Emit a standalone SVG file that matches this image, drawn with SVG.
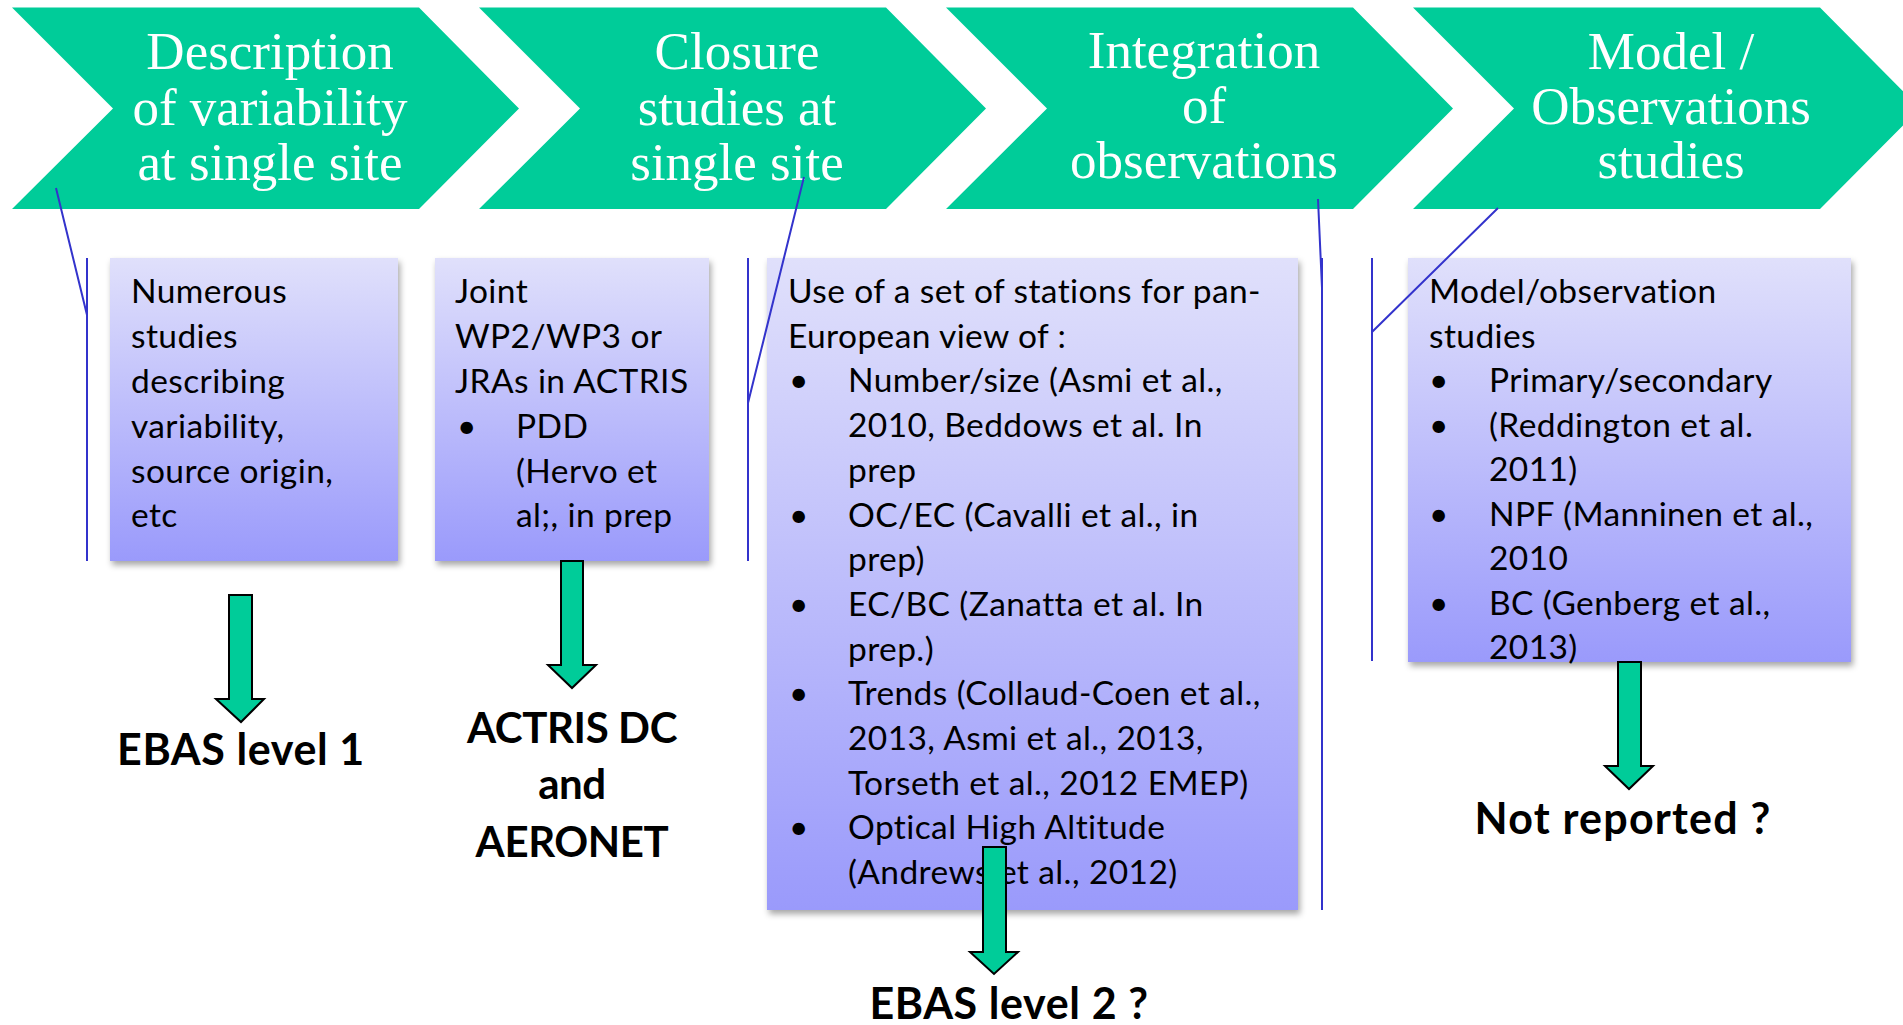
<svg xmlns="http://www.w3.org/2000/svg" width="1903" height="1025" viewBox="0 0 1903 1025">
<style>
.chev{fill:#00CC99}
.ct{font-family:"Liberation Serif","Times New Roman",serif;font-size:53px;fill:#fff;text-anchor:middle}
.box{fill:url(#bg);filter:url(#sh)}
.bt{font-family:Lato,"Liberation Sans",sans-serif;font-size:33.5px;letter-spacing:0.4px;fill:#000}
.lab{font-family:Lato,"Liberation Sans",sans-serif;font-weight:bold;font-size:43px;letter-spacing:0.6px;fill:#000;text-anchor:middle}
.lab2{font-family:Lato,"Liberation Sans",sans-serif;font-weight:bold;font-size:42px;letter-spacing:-0.4px;fill:#000;text-anchor:middle}
.ln{stroke:#3333CC;stroke-width:2;fill:none}
.arr{fill:#00CC99;stroke:#000;stroke-width:2;stroke-linejoin:miter}
</style>
<defs>
<linearGradient id="bg" x1="0" y1="0" x2="0" y2="1">
<stop offset="0" stop-color="#E0E0FB"/>
<stop offset="1" stop-color="#9A9AFB"/>
</linearGradient>
<filter id="sh" x="-5%" y="-5%" width="115%" height="115%">
<feDropShadow dx="2" dy="4" stdDeviation="3" flood-color="#000" flood-opacity="0.35"/>
</filter>
<path id="chevShape" d="M0,7.5 H407 L507,108.5 L407,209 H0 L101,108.5 Z"/>
</defs>
<rect width="1903" height="1025" fill="#fff"/>

<g id="step1">
<use href="#chevShape" x="12" class="chev"/>
<text class="ct"><tspan x="270" y="69">Description</tspan><tspan x="270" y="125">of variability</tspan><tspan x="270" y="180">at single site</tspan></text>
</g>
<g id="step2">
<use href="#chevShape" x="479" class="chev"/>
<text class="ct"><tspan x="737" y="69">Closure</tspan><tspan x="737" y="125">studies at</tspan><tspan x="737" y="180">single site</tspan></text>
</g>
<g id="step3">
<use href="#chevShape" x="946" class="chev"/>
<text class="ct"><tspan x="1204" y="68">Integration</tspan><tspan x="1204" y="123">of</tspan><tspan x="1204" y="178">observations</tspan></text>
</g>
<g id="step4">
<use href="#chevShape" x="1413" class="chev"/>
<text class="ct"><tspan x="1671" y="69">Model /</tspan><tspan x="1671" y="124">Observations</tspan><tspan x="1671" y="178">studies</tspan></text>
</g>

<g id="box1">
<rect class="box" x="110" y="258" width="288" height="303"/>
<text class="bt"><tspan x="131" y="303">Numerous</tspan><tspan x="131" y="348">studies</tspan><tspan x="131" y="393">describing</tspan><tspan x="131" y="438">variability,</tspan><tspan x="131" y="483">source origin,</tspan><tspan x="131" y="527">etc</tspan></text>
</g>
<g id="box2">
<rect class="box" x="435" y="258" width="274" height="303"/>
<text class="bt"><tspan x="455" y="303">Joint</tspan><tspan x="455" y="348">WP2/WP3 or</tspan><tspan x="455" y="393">JRAs in ACTRIS</tspan><tspan x="457" y="438">•</tspan><tspan x="516" y="438">PDD</tspan><tspan x="516" y="483">(Hervo et</tspan><tspan x="516" y="527">al;, in prep</tspan></text>
</g>
<g id="box3">
<rect class="box" x="767" y="258" width="531" height="652"/>
<text class="bt"><tspan x="788" y="303">Use of a set of stations for pan-</tspan><tspan x="788" y="347.7">European view of :</tspan><tspan x="789" y="392.4">•</tspan><tspan x="848" y="392.4">Number/size (Asmi et al.,</tspan><tspan x="848" y="437.1">2010, Beddows et al. In</tspan><tspan x="848" y="481.8">prep</tspan><tspan x="789" y="526.5">•</tspan><tspan x="848" y="526.5">OC/EC (Cavalli et al., in</tspan><tspan x="848" y="571.2">prep)</tspan><tspan x="789" y="615.9">•</tspan><tspan x="848" y="615.9">EC/BC (Zanatta et al. In</tspan><tspan x="848" y="660.6">prep.)</tspan><tspan x="789" y="705.3">•</tspan><tspan x="848" y="705.3">Trends (Collaud-Coen et al.,</tspan><tspan x="848" y="750">2013, Asmi et al., 2013,</tspan><tspan x="848" y="794.7">Torseth et al., 2012 EMEP)</tspan><tspan x="789" y="839.4">•</tspan><tspan x="848" y="839.4">Optical High Altitude</tspan><tspan x="848" y="884.1">(Andrews et al., 2012)</tspan></text>
</g>
<g id="box4">
<rect class="box" x="1408" y="258" width="443" height="404"/>
<text class="bt"><tspan x="1429" y="303">Model/observation</tspan><tspan x="1429" y="347.5">studies</tspan><tspan x="1429" y="392">•</tspan><tspan x="1489" y="392">Primary/secondary</tspan><tspan x="1429" y="436.5">•</tspan><tspan x="1489" y="436.5">(Reddington et al.</tspan><tspan x="1489" y="481">2011)</tspan><tspan x="1429" y="525.5">•</tspan><tspan x="1489" y="525.5">NPF (Manninen et al.,</tspan><tspan x="1489" y="570">2010</tspan><tspan x="1429" y="614.5">•</tspan><tspan x="1489" y="614.5">BC (Genberg et al.,</tspan><tspan x="1489" y="659">2013)</tspan></text>
</g>

<g id="connectors">
<path class="ln" d="M56,188 L87,315 M87,258 V561"/>
<path class="ln" d="M804,177 L748,403 M748,258 V561"/>
<path class="ln" d="M1318,199 L1322,288 M1322,258 V910"/>
<path class="ln" d="M1498,208 L1372,332 M1372,258 V661"/>
<path class="arr" d="M229,595 H252 V699 H264 L241,722 L216,699 H229 Z"/>
<path class="arr" d="M561,561 H583 V665 H596 L572,688 L548,665 H561 Z"/>
<path class="arr" d="M983,847 H1006 V952 H1018 L994,974 L970,952 H983 Z"/>
<path class="arr" d="M1618,662 H1641 V766 H1653 L1629,789 L1605,766 H1618 Z"/>
</g>

<g id="out1"><text class="lab" x="241" y="765">EBAS level 1</text></g>
<g id="out2"><text class="lab2"><tspan x="572" y="743">ACTRIS DC</tspan><tspan x="572" y="799">and</tspan><tspan x="572" y="857">AERONET</tspan></text></g>
<g id="out3"><text class="lab" x="1009" y="1019">EBAS level 2 ?</text></g>
<g id="out4"><text class="lab" x="1623" y="834" style="letter-spacing:1.2px">Not reported ?</text></g>
</svg>
